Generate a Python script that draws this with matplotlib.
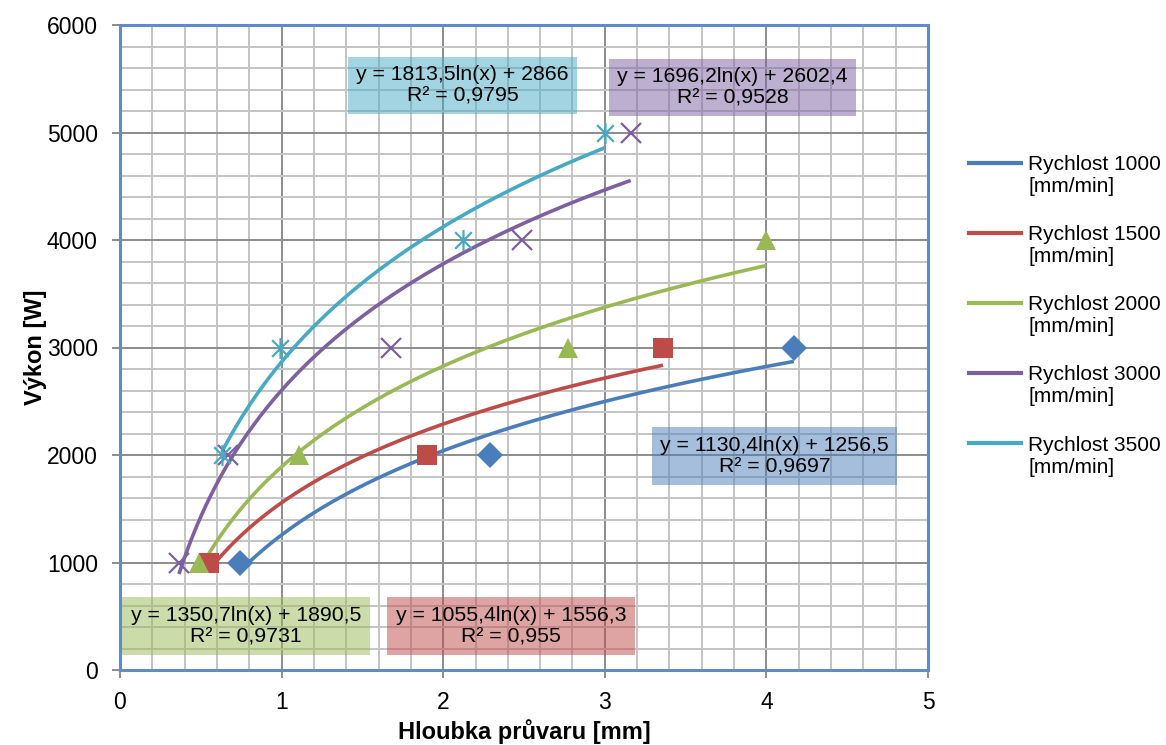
import numpy as np
import matplotlib
matplotlib.use("Agg")
import matplotlib.pyplot as plt
from matplotlib.path import Path
from matplotlib.lines import Line2D
from matplotlib.legend_handler import HandlerLine2D
from matplotlib.ticker import MultipleLocator

plt.rcParams['font.family'] = ['Liberation Sans', 'DejaVu Sans']

# ---- data ----
labels = ["Rychlost 1000\n[mm/min]", "Rychlost 1500\n[mm/min]", "Rychlost 2000\n[mm/min]",
          "Rychlost 3000\n[mm/min]", "Rychlost 3500\n[mm/min]"]
x_1000 = [0.74, 2.29, 4.17]
y_1000 = [1000, 2000, 3000]
x_1500 = [0.55, 1.90, 3.36]
y_1500 = [1000, 2000, 3000]
x_2000 = [0.49, 1.11, 2.77, 4.00]
y_2000 = [1000, 2000, 3000, 4000]
x_3000 = [0.365, 0.67, 1.68, 2.49, 3.16]
y_3000 = [1000, 2000, 3000, 4000, 5000]
x_3500 = [0.63, 0.99, 2.12, 3.00]
y_3500 = [2000, 3000, 4000, 5000]
fit_a = [1130.4, 1055.4, 1350.7, 1696.2, 1813.5]
fit_b = [1256.5, 1556.3, 1890.5, 2602.4, 2866]
eq_texts = ["y = 1130,4ln(x) + 1256,5\nR² = 0,9697",
            "y = 1055,4ln(x) + 1556,3\nR² = 0,955",
            "y = 1350,7ln(x) + 1890,5\nR² = 0,9731",
            "y = 1696,2ln(x) + 2602,4\nR² = 0,9528",
            "y = 1813,5ln(x) + 2866\nR² = 0,9795"]

colors = ["#4A7EBB", "#BE4B48", "#98B954", "#7D60A0", "#46AAC5"]

# asterisk marker (x with vertical bar), Excel style
star_path = Path([(-1, -1), (1, 1), (-1, 1), (1, -1), (0, -1.25), (0, 1.25)],
                 [Path.MOVETO, Path.LINETO, Path.MOVETO, Path.LINETO, Path.MOVETO, Path.LINETO])


class TopLineHandler(HandlerLine2D):
    """Legend line aligned with the first text line."""
    def create_artists(self, legend, orig_handle, xdescent, ydescent, width, height,
                       fontsize, trans):
        arts = super().create_artists(legend, orig_handle, xdescent, ydescent, width, height,
                                      fontsize, trans)
        for a in arts:
            if isinstance(a, Line2D):
                yd = np.asarray(a.get_ydata(), dtype=float)
                a.set_ydata(yd + 0.62 * fontsize)
        return arts


fig = plt.figure(figsize=(11.66, 7.45), dpi=100)
ax = fig.add_axes([120/1166, 75/745, 808/1166, 645/745])

xs_list = [x_1000, x_1500, x_2000, x_3000, x_3500]
ys_list = [y_1000, y_1500, y_2000, y_3000, y_3500]
markers = ['D', 's', '^', 'x', star_path]
msizes = [13, 14, 15, 15, 15]

for xs, ys, a, b, c, m, ms in zip(xs_list, ys_list, fit_a, fit_b, colors, markers, msizes):
    xx = np.linspace(min(xs), max(xs), 200)
    ax.plot(xx, a * np.log(xx) + b, color=c, lw=2.6, zorder=4, solid_capstyle='butt')
    if m == 'x' or isinstance(m, Path):
        ax.plot(xs, ys, linestyle='none', marker=m, ms=ms, mew=1.6, color=c, zorder=5)
    else:
        ax.plot(xs, ys, linestyle='none', marker=m, ms=ms, mec=c, mfc=c, mew=0, zorder=5)

ax.set_xlim(0, 5)
ax.set_ylim(0, 6000)
ax.xaxis.set_major_locator(MultipleLocator(1))
ax.xaxis.set_minor_locator(MultipleLocator(0.2))
ax.yaxis.set_major_locator(MultipleLocator(1000))
ax.yaxis.set_minor_locator(MultipleLocator(200))
ax.grid(which='major', color='#8C8C8C', lw=1.4, zorder=0)
ax.grid(which='minor', color='#C4C4C4', lw=1.4, zorder=0)
ax.set_axisbelow(True)
ax.tick_params(which='major', direction='out', length=6, width=1.4, color='#8C8C8C',
               labelsize=16.5)
ax.tick_params(axis='x', which='major', pad=9)
ax.tick_params(axis='y', which='major', pad=10)
ax.tick_params(which='minor', length=0)
for s in ax.spines.values():
    s.set_color('#5F8BC6')
    s.set_linewidth(2.2)

ax.set_xlabel("Hloubka průvaru [mm]", fontsize=17, fontweight='bold', labelpad=4)
ax.set_ylabel("Výkon [W]", fontsize=17, fontweight='bold', labelpad=0)

# equation boxes (centers in data coords)
box_pos = [(4.05, 1990), (2.42, 410), (0.78, 410), (3.79, 5420), (2.12, 5440)]
for txt, c, (bx, by) in zip(eq_texts, colors, box_pos):
    ax.text(bx, by, txt, ha='center', va='center', fontsize=15.3, linespacing=1.15, zorder=6,
            bbox=dict(boxstyle='square,pad=0.4', fc=c, ec='none', alpha=0.5))

handles = [Line2D([], [], color=c, lw=3) for c in colors]
fig.legend(handles, labels, loc='upper left', bbox_to_anchor=(969/1166, 1 - 155/745),
           frameon=False, fontsize=15, handlelength=2.5, handletextpad=0.35,
           labelspacing=1.4, borderaxespad=0, borderpad=0,
           handler_map={Line2D: TopLineHandler()})

fig.savefig("out.png", dpi=100)
